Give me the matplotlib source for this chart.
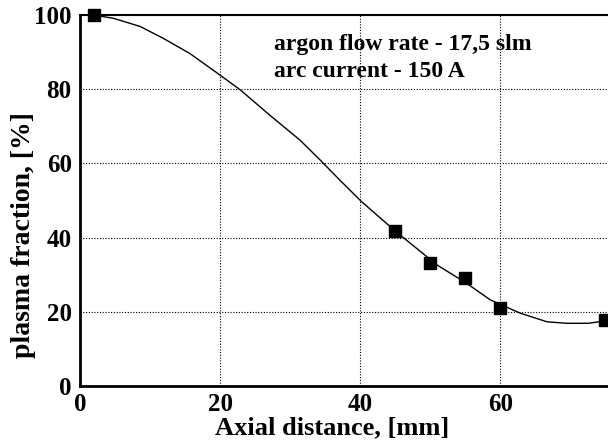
import numpy as np
import matplotlib.pyplot as plt

plt.rcParams["font.family"] = ["Liberation Serif", "DejaVu Serif"]
plt.rcParams["font.weight"] = "bold"

# measured points
x_meas = [2, 45, 50, 55, 60, 75]
y_meas = [100, 41.8, 33.1, 29.2, 20.9, 17.8]

# fitted curve
x_fit = [0, 1.9, 4.8, 8.6, 11.9, 15.7, 20, 22.9, 27.1, 31.4, 34.3, 37.1, 40.2,
         45, 51, 55.2, 58.6, 62.9, 66.7, 69.5, 72.6, 75.2, 76]
y_fit = [100, 100, 99.1, 96.9, 93.7, 89.6, 83.8, 79.8, 73, 66.3, 60.9, 55.5, 49.7,
         41.8, 32.6, 27.7, 23.2, 19.6, 17.3, 16.9, 16.9, 17.6, 17.7]

fig = plt.figure(figsize=(6.08, 4.45), dpi=100)
ax = fig.add_axes([0.1316, 0.1326, 0.8684, 0.8337])

ax.plot(x_fit, y_fit, color="black", lw=1.0)
ax.plot(x_meas, y_meas, "s", color="black", ms=9, clip_on=False, zorder=5)

ax.set_xlim(0, 75.4)
ax.set_ylim(0, 100)
ax.set_xticks([0, 20, 40, 60])
ax.set_yticks([0, 20, 40, 60, 80, 100])
ax.grid(True, color="black", ls=(0, (1, 1.5)), lw=0.8)
ax.tick_params(length=0, labelsize=18)
ax.tick_params(axis="y", pad=6)
ax.tick_params(axis="x", pad=5)
for lab in ax.get_xticklabels() + ax.get_yticklabels():
    lab.set_fontweight("bold")

ax.spines["right"].set_visible(False)
ax.spines["left"].set_linewidth(2)
ax.spines["bottom"].set_linewidth(2)
ax.spines["top"].set_linewidth(1.5)

ax.set_xlabel("Axial distance, [mm]", fontsize=19, fontweight="bold")
ax.xaxis.set_label_coords(0.477, -0.082)
ax.set_ylabel("plasma fraction, [%]", fontsize=20, fontweight="bold")
ax.yaxis.set_label_coords(-0.083, 0.407)

ax.text(27.7, 90.6, "argon flow rate - 17,5 slm", fontsize=17, fontweight="bold")
ax.text(27.7, 83.3, "arc current - 150 A", fontsize=17, fontweight="bold")

fig.savefig("out.png", dpi=100)
